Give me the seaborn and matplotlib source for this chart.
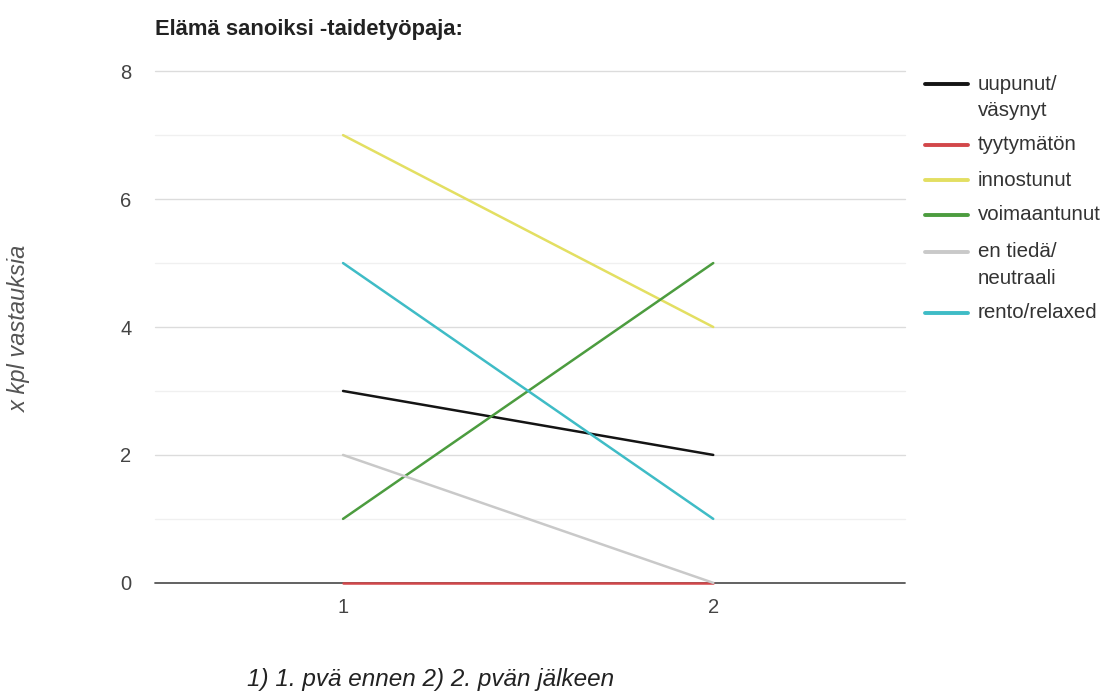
import pandas as pd
import matplotlib.pyplot as plt
import seaborn as sns

# data
days = [1, 2]
series = ['uupunut/\nväsynyt', 'tyytymätön', 'innostunut', 'voimaantunut',
          'en tiedä/\nneutraali', 'rento/relaxed']
uupunut = [3, 2]
tyytymaton = [0, 0]
innostunut = [7, 4]
voimaantunut = [1, 5]
en_tieda = [2, 0]
rento = [5, 1]
colors = ['#141414', '#d2474a', '#e3df62', '#4c9c3f', '#c9c9c9', '#3fbcc6']

values = [uupunut, tyytymaton, innostunut, voimaantunut, en_tieda, rento]
rows = []
for name, vals in zip(series, values):
    for d, v in zip(days, vals):
        rows.append({'day': d, 'count': v, 'series': name})
df = pd.DataFrame(rows)

sns.set_theme(style="white")
plt.rcParams['font.family'] = ['Liberation Sans', 'DejaVu Sans']

fig = plt.figure(figsize=(11.15, 6.98), dpi=100)
ax = fig.add_axes([0.139, 0.165, 0.673, 0.733])

# gridlines: minor lighter than major
for y in [1, 3, 5, 7]:
    ax.axhline(y, color='#f0f0f0', lw=1, zorder=0)
for y in [2, 4, 6, 8]:
    ax.axhline(y, color='#dcdcdc', lw=1, zorder=0)
ax.axhline(0, color='#555555', lw=1.3, zorder=1, clip_on=False)

sns.lineplot(data=df, x='day', y='count', hue='series', hue_order=series,
             palette=colors, linewidth=1.8, ax=ax, legend=False, zorder=3)
for ln in ax.get_lines():
    ln.set_clip_on(False)

ax.set_xlim(0.492, 2.519)
ax.set_ylim(0, 8)
ax.set_xticks(days)
ax.set_yticks([0, 2, 4, 6, 8])
ax.tick_params(axis='both', length=0, labelsize=14.5, labelcolor='#444444')
ax.tick_params(axis='y', pad=17)
ax.tick_params(axis='x', pad=11)
for s in ax.spines.values():
    s.set_visible(False)
ax.set_xlabel('')
ax.set_ylabel('')

fig.text(0.139, 0.958, 'Elämä sanoiksi -taidetyöpaja:', fontsize=15.8,
         fontweight='bold', color='#222222', ha='left', va='center')
fig.text(0.386, 0.026, '1) 1. pvä ennen 2) 2. pvän jälkeen', fontsize=17.5,
         style='italic', color='#222222', ha='center', va='center')
fig.text(0.017, 0.53, 'x kpl vastauksia', fontsize=17, style='italic',
         color='#555555', rotation=90, ha='center', va='center')

# legend drawn by hand so the key lines up with the first text line
W, H = 1115, 698
key_y = [84, 145, 180, 215, 252, 313]
for name, c, yk in zip(series, colors, key_y):
    fy = 1 - yk / H
    fig.add_artist(plt.Line2D([925 / W, 968 / W], [fy, fy], color=c, lw=2.8,
                              transform=fig.transFigure))
    for i, part in enumerate(name.split('\n')):
        fig.text(978 / W, 1 - (yk + 26 * i) / H, part, fontsize=14.8,
                 color='#333333', ha='left', va='center')

fig.savefig('out.png', dpi=100)
